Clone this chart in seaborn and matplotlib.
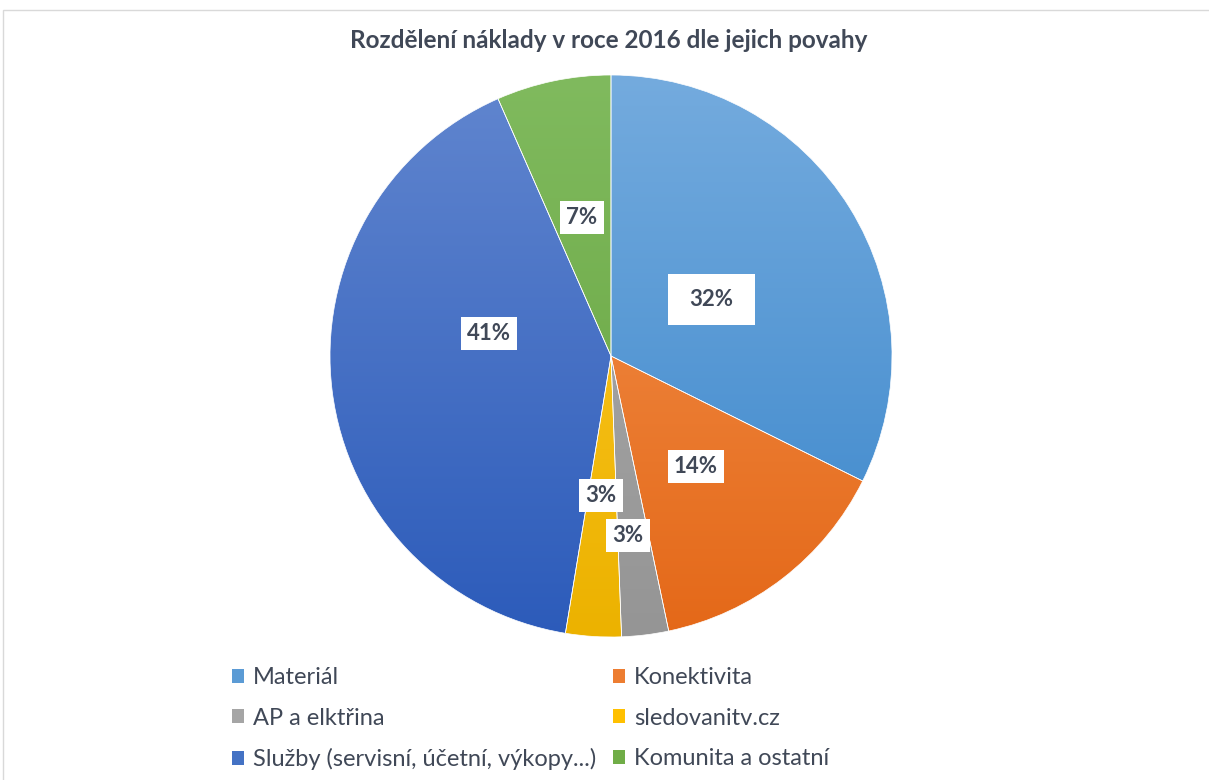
import numpy as np
import matplotlib
matplotlib.use("Agg")
import matplotlib.pyplot as plt
import seaborn as sns
from matplotlib.colors import LinearSegmentedColormap
from matplotlib.patches import Rectangle, Patch

# ---- data ----
title = "Rozdělení náklady v roce 2016 dle jejich povahy"
categories = ["Materiál", "Konektivita", "AP a elktřina", "sledovanitv.cz",
              "Služby (servisní, účetní, výkopy...)", "Komunita a ostatní"]
values = [32.4, 14.4, 2.7, 3.2, 40.9, 6.6]
pct_labels = ["32%", "14%", "3%", "3%", "41%", "7%"]

# ---- styles ----
grad_top = ["#74ABDE", "#F49552", "#ADADAD", "#FFCA2A", "#6186CF", "#80BA5E"]
grad_bot = ["#3A86CB", "#E46818", "#959595", "#ECB200", "#2C5BBA", "#65A33E"]
legend_col = ["#5B9BD5", "#ED7D31", "#A5A5A5", "#FFC000", "#4472C4", "#70AD47"]
label_dist = [0.41, 0.495, 0.643, 0.497, 0.442, 0.502]
label_shift = [-2.5, -0.3, -1.6, -0.5, -17.5, 0.0]
label_pads = [(0.95, 0.72), (0.27, 1.0), (0.27, 1.0), (0.27, 1.0), (0.27, 1.0), (0.27, 1.0)]
text_col = "#404857"

sns.set_theme(style="white")
plt.rcParams["font.family"] = ["Lato", "DejaVu Sans"]

W, H = 1209, 780
fig = plt.figure(figsize=(W / 100, H / 100), dpi=100)
fig.patch.set_facecolor("white")

# chart frame
fig.patches.append(Rectangle((3 / W, -0.05), 1.2, (H - 10) / H + 0.05,
                             transform=fig.transFigure, fill=False,
                             edgecolor="#D9D9D9", linewidth=1.0))

cx, cy, r = 611, 356, 281
ax = fig.add_axes([(cx - r) / W, (H - cy - r) / H, 2 * r / W, 2 * r / H])
ax.set_axis_off()

wedges, _ = ax.pie(values, colors=legend_col, startangle=90, counterclock=False,
                   radius=1, wedgeprops=dict(edgecolor="white", linewidth=0.5))

grad = np.linspace(0, 1, 256).reshape(-1, 1)
for w, c1, c2 in zip(wedges, grad_top, grad_bot):
    cmap = LinearSegmentedColormap.from_list("g", [c2, c1])
    im = ax.imshow(grad, cmap=cmap, extent=[-1, 1, -1, 1], origin="lower",
                   aspect="auto", zorder=1.5)
    im.set_clip_path(w)
    w.set_facecolor("none")
    w.set_zorder(2)

for w, lab, d, sh, (pad, asp) in zip(wedges, pct_labels, label_dist, label_shift, label_pads):
    ang = np.deg2rad((w.theta1 + w.theta2) / 2 + sh)
    ax.text(d * np.cos(ang), d * np.sin(ang), lab, ha="center", va="center",
            fontsize=16, fontweight="bold", color=text_col, zorder=5,
            bbox=dict(boxstyle=f"square,pad={pad}", facecolor="white",
                      edgecolor="none", mutation_aspect=asp))

ax.set_xlim(-1, 1)
ax.set_ylim(-1, 1)
ax.set_aspect("equal")

fig.text(609 / W, 1 - 40 / H, title, ha="center", va="center",
         fontsize=17.5, fontweight="bold", color=text_col)

handles = [Patch(facecolor=c, edgecolor="none", label=l) for c, l in zip(legend_col, categories)]
order = [0, 2, 4, 1, 3, 5]
leg = fig.legend([handles[i] for i in order], [categories[i] for i in order],
                 ncol=2, loc="upper left", bbox_to_anchor=(232 / W, 1 - 667 / H),
                 frameon=False, fontsize=17, handlelength=0.52, handleheight=0.52,
                 handletextpad=0.38, columnspacing=0.68, labelspacing=0.83,
                 borderpad=0, borderaxespad=0)
for t in leg.get_texts():
    t.set_color(text_col)

fig.savefig("out.png", dpi=100, facecolor="white")
